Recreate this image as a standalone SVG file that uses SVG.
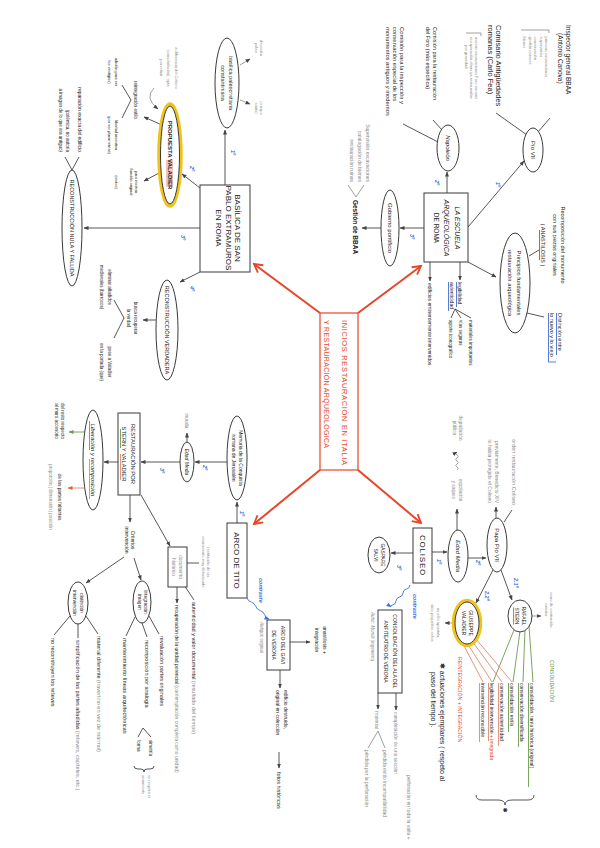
<svg xmlns="http://www.w3.org/2000/svg" width="600" height="848" viewBox="0 0 600 848">
<defs>
<style>
text{font-family:"Liberation Sans","DejaVu Sans",Arial,sans-serif;fill:#222}
.m{text-anchor:middle}
.e{text-anchor:end}
.gy{fill:#8a8a8a}
.bl{fill:#3d6fd9;font-style:italic;font-weight:bold;font-size:5.5px}
.rd{fill:#e5482b}
.gn{fill:#5f8f3e}
.nd{fill:#fff;stroke:#3a3a3a;stroke-width:1}
.ln{fill:none;stroke:#444;stroke-width:0.9}
.lg{fill:none;stroke:#888;stroke-width:0.8}
.arr{marker-end:url(#ar)}
.red{fill:none;stroke:#e8452a;stroke-width:2;marker-end:url(#arR)}
.grn{fill:none;stroke:#6e9a4f;stroke-width:0.9}
.org{fill:none;stroke:#e08a70;stroke-width:0.9}
.blu{fill:none;stroke:#3d6fd9;stroke-width:0.9;marker-end:url(#arB)}
.yel{fill:none;stroke:#f0c21c;stroke-width:3.5}
</style>
<marker id="ar" viewBox="0 0 10 10" refX="9" refY="5" markerWidth="5" markerHeight="5" markerUnits="userSpaceOnUse" orient="auto"><path d="M0,1 L10,5 L0,9 z" fill="#444"/></marker>
<marker id="arB" viewBox="0 0 10 10" refX="9" refY="5" markerWidth="5" markerHeight="5" markerUnits="userSpaceOnUse" orient="auto"><path d="M0,1 L10,5 L0,9 z" fill="#3d6fd9"/></marker>
<marker id="arG" viewBox="0 0 10 10" refX="9" refY="5" markerWidth="5" markerHeight="5" markerUnits="userSpaceOnUse" orient="auto"><path d="M0,1 L10,5 L0,9 z" fill="#6e9a4f"/></marker>
<marker id="arO" viewBox="0 0 10 10" refX="9" refY="5" markerWidth="5" markerHeight="5" markerUnits="userSpaceOnUse" orient="auto"><path d="M0,1 L10,5 L0,9 z" fill="#e5603f"/></marker>
<marker id="arR" viewBox="0 0 12 12" refX="10" refY="6" markerWidth="11" markerHeight="11" markerUnits="userSpaceOnUse" orient="auto"><path d="M1,1 L10,6 L1,11" fill="none" stroke="#e8452a" stroke-width="2"/></marker>
</defs>
<rect width="600" height="848" fill="#fff"/>
<g id="diagram" transform="translate(600 0) rotate(90)">

<g id="connectors">
<path class="red" d="M313,280 L264,346"/>
<path class="red" d="M313,242 L266,179"/>
<path class="red" d="M470,280 L524,346"/>
<path class="red" d="M470,242 L523,179"/>
<path class="ln arr" d="M185,375 L130,375"/>
<path class="ln arr" d="M188,400 L174,418"/>
<path class="ln arr" d="M228,400 L228,516"/>
<path class="ln arr" d="M272,400 L282,420"/>
<path class="lg arr" d="M65,360 L59,350"/>
<path class="lg arr" d="M100,360 L104,350"/>
<path class="ln arr" d="M125,438 L117,456"/>
<path class="ln arr" d="M172,439 L181,456"/>
<path class="lg arr" d="M88,446 Q98,456 109,442"/>
<path class="ln" d="M100,469 L85,478 M100,469 L118,478"/>
<path class="ln" d="M170,528 L157,521 M170,528 L157,535"/>
<path class="ln arr" d="M320,444 L320,457"/>
<path class="ln" d="M318,476 L300,486 M318,476 L338,486"/>
<path class="ln arr" d="M227,132 L161,76"/>
<path class="ln" d="M132,62 L118,50"/>
<path class="ln" d="M135,73 L113,104"/>
<path class="ln arr" d="M193,153 L172,153"/>
<path class="ln" d="M130,158 L120,167"/>
<path class="ln" d="M142,162 L124,197"/>
<path class="ln arr" d="M228,176 L228,200"/>
<path class="ln arr" d="M228,219 L228,238"/>
<path class="lg" d="M197,244 L185,236 M197,244 L185,252"/>
<path class="ln arr" d="M262,132 L277,104"/>
<path class="ln" d="M313,73 L317,56"/>
<path class="ln" d="M250,61 L256,71"/>
<path class="ln arr" d="M262,140 L280,140"/>
<path class="ln" d="M309,145 L318,129 M309,145 L318,139 M309,145 L318,149"/>
<path class="ln arr" d="M262,170 L281,170"/>
<path class="ln arr" d="M552,168 L552,153"/>
<path class="ln arr" d="M530,143 L509,143"/>
<path class="lg arr" d="M470,143 q-1.5,-2.5 -3,0 t-3,0 t-3,0 t-3,0 t-3,0 t-3,0"/>
<path class="ln arr" d="M558,132 L558,114"/>
<path class="ln arr" d="M518,104 L507,104"/>
<path class="ln" d="M522,96 L510,88"/>
<path class="ln arr" d="M570,99 L600,88"/>
<path class="ln arr" d="M570,107 L603,124"/>
<path class="lg arr" d="M616,68 L616,59"/>
<path class="lg arr" d="M623,145 L623,155"/>
<path class="grn" d="M626,71 L682,67 M629,75 L682,77 M631,80 L682,87 M630,86 L682,107"/>
<path class="org" d="M639,124 L682,88 M641,128 L682,98 M643,133 L682,108 M642,138 L682,117"/>
<path class="ln" d="M795,66 Q800,66 800,72 L800,88 Q800,95 805,95 Q800,95 800,102 L800,118 Q800,124 795,124"/>
<path class="ln arr" d="M553,187 L553,209"/>
<path class="blu" d="M585,190 q3.3,0.25 4,3.5 t4,3.5 t4,3.5 t4,3.5 t4,3.5 t2,1.5"/>
<path class="ln arr" d="M693,222 L709,222"/>
<path class="lg" d="M731,222 L748,215 M731,222 L748,232"/>
<path class="ln arr" d="M693,204 L710,204"/>
<path class="ln arr" d="M523,363 L502,363"/>
<path class="ln arr" d="M462,373 L462,405"/>
<path class="ln arr" d="M442,413 L433,413"/>
<path class="ln arr" d="M462,420 L462,459"/>
<path class="ln arr" d="M462,482 L462,496"/>
<path class="grn" style="marker-end:url(#arG)" d="M432,515 L432,531"/>
<path class="org" style="marker-end:url(#arO)" d="M488,516 L488,532"/>
<path class="ln arr" d="M495,470 L522,470"/>
<path class="ln arr" d="M557,476 L583,514"/>
<path class="ln arr" d="M558,466 L580,459"/>
<path class="ln" d="M616,451 L634,441 M623,458 L637,453 M617,465 L636,474"/>
<path class="ln" d="M728,457 L737,449 M728,457 L737,462"/>
<path class="ln" d="M766,446 Q769,446 769,450 L769,453 Q769,456 772,456 Q769,456 769,459 L769,462 Q769,466 766,466"/>
<path class="ln" d="M616,514 L634,502 M624,522 L638,522 M616,530 L635,546"/>
<path class="ln arr" d="M495,459 L546,430"/>
<path class="ln" d="M563,413 L563,401"/>
<path class="ln" d="M585,416 L600,406"/>
<path class="ln arr" d="M587,423 L603,423"/>
<path class="blu" d="M598,353 q3.2,-1.2 4.2,-4.4 t4.2,-4.4 t4.2,-4.4 t4.2,-4.4 t4.2,-4.4"/>
<path class="ln arr" d="M642,310 L642,290"/>
<path class="ln arr" d="M670,320 L688,320"/>
<path class="ln arr" d="M752,321 L768,321"/>
</g>

<g id="central">
<rect x="313" y="242" width="157" height="38" fill="#fff" stroke="#e8452a" stroke-width="1.2"/>
<text class="rd" x="320" y="258" font-size="7.5" textLength="145" lengthAdjust="spacing">INICIOS RESTAURACIÓN EN ITALIA</text>
<text class="rd" x="320" y="276" font-size="7" textLength="128" lengthAdjust="spacing">Y RESTAURACIÓN ARQUEOLÓGICA</text>
</g>

<g id="basilica">
<rect class="nd" x="185" y="350" width="87" height="50"/>
<text class="m" x="228" y="365" font-size="8">BASÍLICA DE SAN</text>
<text class="m" x="228" y="374" font-size="8">PABLO EXTRAMUROS</text>
<text class="m" x="228" y="384" font-size="8">EN ROMA</text>
<text class="bl" x="150" y="369">1º</text>
<text class="bl" x="166" y="410">2º</text>
<text class="bl" x="235" y="419">3º</text>
<text class="bl" x="286" y="410">4º</text>
</g>

<g id="paleocristiana">
<ellipse class="nd" cx="83" cy="373" rx="45" ry="12"/>
<text class="m" x="83" y="371" font-size="5.5">basílica paleocristiana</text>
<text class="m" x="83" y="379" font-size="5.5">constantiniana</text>
<text class="m gy" x="48" y="340" font-size="4">devoción</text>
<text class="m gy" x="48" y="345" font-size="4">pobre</text>
<text class="m gy" x="108" y="340" font-size="4">(cuerpo</text>
<text class="m gy" x="108" y="345" font-size="4">santo)</text>
</g>

<g id="propuesta-valadier">
<ellipse class="yel" cx="155" cy="430" rx="51" ry="11"/>
<ellipse class="nd" cx="155" cy="430" rx="49" ry="9.5"/>
<rect x="160" y="427" width="27" height="7" fill="#f4c6c0"/>
<text class="m" x="155" y="432.5" font-size="6" font-weight="bold">PROPUESTA VALADIER</text>
<text class="m gy" x="68" y="425" font-size="4">a diferencia del Coliseo</text>
<text class="m gy" x="68" y="433" font-size="4">(consolidación), opta</text>
<text class="m gy" x="68" y="440" font-size="4">por retirar</text>
<text class="m" x="100" y="466" font-size="4.5">reintegración estilo</text>
<text class="m" x="72" y="485" font-size="4">adición para ver</text>
<text class="m" x="72" y="492" font-size="4">los vestigios)</text>
<text class="m" x="135" y="485" font-size="4">libertad inventiva</text>
<text class="m" x="135" y="492" font-size="4">(por ser planimetrías)</text>
<text class="m" x="182" y="465" font-size="4">para mostrar</text>
<text class="m" x="182" y="470" font-size="4">función original</text>
<text class="m" x="182" y="485" font-size="4">(restos)</text>
</g>

<g id="reconstruccion-nula">
<ellipse class="nd" cx="228" cy="528" rx="58" ry="10"/>
<text class="m" x="228" y="530" font-size="5.5">RECONSTRUCCIÓN NULA Y FALLIDA</text>
<text class="e" x="152" y="522" font-size="5">reparación exacta del edificio</text>
<text class="e" x="152" y="534" font-size="4.5">(polémica, no autoría</text>
<text class="e" x="152" y="541" font-size="4.5">a imagen de lo que era antiguo)</text>
</g>

<g id="reconstruccion-verdadera">
<ellipse class="nd" cx="330" cy="433" rx="50" ry="11"/>
<text class="m" x="330" y="435" font-size="5.5">RECONSTRUCCIÓN VERDADERA</text>
<text class="m" x="318" y="466" font-size="4.5">busca recuperar</text>
<text class="m" x="318" y="473" font-size="4.5">la verdad</text>
<text class="m" x="287" y="492" font-size="4.5">eliminar añadidos</text>
<text class="m" x="287" y="500" font-size="4.5">medievales (barrocos)</text>
<text class="m" x="362" y="492" font-size="4.5">pese a Valadier</text>
<text class="m" x="362" y="500" font-size="4.5">en la portada (que)</text>
</g>

<g id="escuela">
<rect class="nd" x="193" y="132" width="69" height="44"/>
<text class="m" x="228" y="145" font-size="7" font-style="italic">LA ESCUELA</text>
<text class="m" x="228" y="156" font-size="7" font-style="italic">ARQUEOLÓGICA</text>
<text class="m" x="228" y="166" font-size="6.5">DE ROMA</text>
<text class="bl" x="182" y="104">1º</text>
<text class="bl" x="180" y="165">2º</text>
<text class="bl" x="234" y="190">3º</text>
</g>

<g id="pio-vii">
<ellipse class="nd" cx="150" cy="67" rx="22" ry="10"/>
<text class="m" x="150" y="69" font-size="6">Pío VII</text>
<text x="25" y="34" font-size="6.5">Inspector general BBAA</text>
<text x="33" y="42" font-size="6.5">(Antonio Canova)</text>
<path class="lg" d="M33,51 L30,51 L30,79"/>
<text class="gy" x="34" y="55" font-size="4">- primeras excavaciones</text>
<text class="gy" x="34" y="60.5" font-size="4">- supervisión</text>
<text class="gy" x="34" y="66" font-size="4">- conservación</text>
<text class="gy" x="34" y="71.5" font-size="4">- gestión museos</text>
<text class="gy" x="34" y="77" font-size="4">- bienes</text>
<text x="25" y="104.5" font-size="7.5">Comisario Antigüedades</text>
<text x="25" y="112.5" font-size="7.5">romanas  (Carlo Fea)</text>
<path class="lg" d="M36,119 L33,119 L33,134"/>
<text class="gy" x="37" y="125" font-size="4">nuevas excavaciones Foro romano</text>
<text class="gy" x="37" y="130" font-size="4">recuperación obras ya restauradas</text>
<text class="gy" x="45" y="135" font-size="4">por gravedad</text>
</g>

<g id="napoleon">
<ellipse class="nd" cx="148" cy="152" rx="23" ry="11"/>
<text class="m" x="148" y="154" font-size="6" font-style="italic">Napoleón</text>
<text x="27" y="167" font-size="5.5">Comisión para la restauración</text>
<text x="27" y="174" font-size="5.5">del Foro (más específica)</text>
<text x="27" y="200" font-size="5.8">Comisión para la inspección y</text>
<text x="27" y="207" font-size="5.8">conservación especial de los</text>
<text x="27" y="214" font-size="5.8">monumentos antiguos y modernos</text>
</g>

<g id="gobierno-pontificio">
<ellipse class="nd" cx="228" cy="210" rx="38" ry="9"/>
<text class="m" x="228" y="212" font-size="6">Gobierno pontificio</text>
<text class="m" x="227" y="247" font-size="6.5" font-weight="bold">Gestión de BBAA</text>
<text class="e gy" x="182" y="234" font-size="5">Supervisión excavaciones</text>
<text class="e gy" x="182" y="242" font-size="5">catalogación de bienes</text>
<text class="e gy" x="182" y="250" font-size="5">restauración ruinas</text>
</g>

<g id="principios">
<ellipse class="nd" cx="283" cy="85" rx="50" ry="15"/>
<text class="m" x="283" y="83" font-size="5.8">Principios fundamentales</text>
<text class="m" x="283" y="92" font-size="5.8">restauración arqueológica</text>
<text class="m" x="245" y="39" font-size="5.5">Recomposición del monumento</text>
<text class="m" x="245" y="47" font-size="5.5">con sus piezas originales</text>
<text class="m" x="245" y="59" font-size="5.5">( ANASTILOSIS )</text>
<path class="blu" style="marker-end:none" d="M230,60.5 L260,60.5"/>
<text x="313" y="42" font-size="5.5">Distinción entre</text>
<text x="313" y="50" font-size="5.5">lo nuevo y lo viejo</text>
<path class="blu" style="marker-end:none" d="M313,43.5 L355,43.5 M313,51.5 L362,51.5 L362,44"/>
<text x="282" y="142" font-size="5">legibilidad</text>
<text x="282" y="150" font-size="5">autenticidad</text>
<path class="blu" style="marker-end:none" d="M282,143.5 L307,143.5 M282,151.5 L311,151.5"/>
<text x="320" y="131" font-size="4.5">materiales importantes</text>
<text x="320" y="141" font-size="4.5">vías seguras</text>
<text x="320" y="151" font-size="4.5">aporte iconográfico</text>
<text x="283" y="172" font-size="5">edificios eminentemente intervenidos</text>
</g>

<g id="coliseo">
<rect class="nd" x="528" y="168" width="55" height="19"/>
<text class="m" x="555.5" y="180.5" font-size="8" letter-spacing="0.8">COLISEO</text>
<text class="bl" x="559" y="163">1º</text>
<text class="bl" x="560" y="124">2º</text>
<text class="bl" x="565" y="203">3º</text>
</g>

<g id="edad-media-coliseo">
<ellipse class="nd" cx="556" cy="142" rx="26" ry="10"/>
<text class="m" x="556" y="144" font-size="6" font-style="italic">Edad Media</text>
<text class="m gy" x="428" y="141" font-size="4.5">degradación</text>
<text class="m gy" x="428" y="147" font-size="4.5">pública</text>
<text class="m gy" x="490" y="141" font-size="4.5">expoliación</text>
<text class="m gy" x="490" y="148" font-size="4.5">y saqueo</text>
</g>

<g id="papa-pio-vii">
<ellipse class="nd" cx="545" cy="103" rx="27" ry="10"/>
<text class="m" x="545" y="105" font-size="6">Papa Pío VII</text>
<text class="e gy" x="503" y="105" font-size="5">previamente, Benedicto XIV</text>
<text class="e gy" x="503" y="112" font-size="5">lo había protegido el Coliseo</text>
<text class="e gy" x="505" y="88" font-size="5.5">orden restauración Coliseo</text>
<text class="bl" x="578" y="86">2.1º</text>
<text class="bl" x="591" y="115">2.2º</text>
</g>

<g id="rafael-stern">
<ellipse class="nd" cx="616" cy="80" rx="16" ry="12"/>
<text class="m" x="616" y="78" font-size="5">RAFAEL</text>
<text class="m" x="616" y="85" font-size="5" text-decoration="underline">STERN</text>
<text class="m gy" x="610" y="50" font-size="4">muro de contención</text>
<text class="m gy" x="610" y="55" font-size="4">exterior</text>
<text class="gn" x="660" y="50" font-size="5">CONSOLIDACIÓN</text>
</g>

<g id="giuseppe-valadier">
<ellipse class="yel" cx="623" cy="133" rx="22.5" ry="13.5"/>
<ellipse class="nd" cx="623" cy="133" rx="21" ry="12"/>
<text class="m" x="623" y="131" font-size="5">GIUSEPPE</text>
<text class="m" x="623" y="138" font-size="5">VALADIER</text>
<text class="m gy" x="623" y="163" font-size="4">no sólo apuntala,</text>
<text class="m gy" x="623" y="169" font-size="4">sino pequeños sellos</text>
<text class="rd" x="657" y="142" font-size="5.2">REINTEGRACIÓN + INTEGRACIÓN</text>
</g>

<g id="actuaciones">
<text x="683" y="70" font-size="5">consolidación, tanto histórica (original)</text>
<text x="683" y="80" font-size="5">conservación diversificada</text>
<text x="683" y="90" font-size="5">consolidación estilo</text>
<text x="683" y="100" font-size="5">conservación autenticidad</text>
<text x="683" y="110" font-size="5">legibilidad intervención <tspan class="rd">+ integrada</tspan></text>
<text x="683" y="119" font-size="5">intervención reconocible</text>
<path class="grn" d="M683,71.5 L787,71.5 M683,81.5 L747,81.5 M683,91.5 L732,91.5"/>
<path class="org" d="M683,101.5 L746,101.5 M683,111.5 L741,111.5 M683,120.5 L742,120.5"/>
<text x="663" y="160" font-size="7"><tspan font-family="DejaVu Sans">✱</tspan> actuaciones ejemplares ( respeto al</text>
<text x="672" y="169" font-size="7">paso del tiempo ).</text>
<text class="m" x="810" y="97" font-size="6" font-family="DejaVu Sans">✱</text>
</g>

<g id="gaspare-salvi">
<ellipse class="nd" cx="555" cy="221" rx="18" ry="11"/>
<text class="m" x="555" y="219.5" font-size="4.8">GASPARE</text>
<text class="m" x="555" y="226" font-size="4.8">SALVI</text>
</g>

<g id="verona-anfiteatro">
<text class="bl" x="594" y="187" font-size="4.5" font-weight="normal">contraste</text>
<rect class="nd" x="610" y="198" width="83" height="24"/>
<text class="m" x="651.5" y="207.5" font-size="5">CONSOLIDACIÓN DEL ALA DEL</text>
<text class="m" x="651.5" y="216.5" font-size="5">ANFITEATRO DE VERONA</text>
<text class="gy" x="612" y="229" font-size="4.5" font-style="italic">Autor: Morelli (ingeniero)</text>
<text class="gy" x="711" y="225" font-size="5">material</text>
<text class="gy" x="750" y="217" font-size="5">pérdida estilo incompatibilidad</text>
<text class="gy" x="750" y="235" font-size="5">pérdida por la perforación</text>
<text class="gy" x="712" y="206" font-size="4.8">completación de una sección</text>
<text class="gy" x="775" y="193" font-size="5">perforación en toda la valla +</text>
</g>

<g id="arco-tito">
<rect class="nd" x="523" y="353" width="75" height="20"/>
<text class="m" x="560.5" y="366" font-size="8">ARCO DE TITO</text>
<text class="bl" x="511" y="360">1º</text>
<text class="bl" x="465" y="397">2º</text>
<text class="bl" x="468" y="440">3º</text>
<text class="bl" x="578" y="341" font-size="4.5" font-weight="normal">contraste</text>
</g>

<g id="memoria">
<ellipse class="nd" cx="458" cy="363" rx="42" ry="10"/>
<text class="m" x="458" y="361" font-size="5">Memoria de la Conquista</text>
<text class="m" x="458" y="368" font-size="5">romana de Jerusalén</text>
</g>

<g id="edad-media-arco">
<ellipse class="nd" cx="462" cy="413" rx="20" ry="7"/>
<text class="m" x="462" y="415" font-size="5" font-style="italic">Edad Media</text>
<text class="m gy" x="421" y="415" font-size="4.5">muralla</text>
</g>

<g id="restauracion-stern-valadier">
<rect class="nd" x="413" y="460" width="82" height="22"/>
<text class="m" x="454" y="469" font-size="5.8">RESTAURACIÓN POR</text>
<text class="m" x="454" y="478" font-size="5.8">STERN Y VALADIER</text>
<path class="grn" d="M429,479.5 L448,479.5"/>
<path class="org" d="M454,479.5 L480,479.5"/>
</g>

<g id="liberacion">
<ellipse class="nd" cx="460" cy="507" rx="50" ry="10"/>
<text class="m" x="460" y="509" font-size="6" font-style="italic">Liberación y recomposición</text>
<path class="grn" d="M421,510.5 L450,510.5"/>
<path class="org" d="M459,510.5 L499,510.5"/>
<text class="m" x="421" y="539" font-size="4.5">del resto respecto</text>
<text class="m" x="421" y="545" font-size="4.5">al muro accesorio</text>
<text class="m" x="497" y="542" font-size="4.8">de las partes faltantes</text>
<text class="m gy" x="497" y="551" font-size="4.5">proporción | dimensión | posición</text>
</g>

<g id="criterios">
<text class="m" x="540" y="469" font-size="5">Criterios</text>
<text class="m" x="540" y="475" font-size="5">intervención</text>
</g>

<g id="integracion-imagen">
<ellipse class="nd" cx="602" cy="458" rx="21" ry="9"/>
<text class="m" x="602" y="456" font-size="4.8">Integración</text>
<text class="m" x="602" y="462" font-size="4.8">imagen</text>
<text x="636" y="440" font-size="5.5">revaluación partes originales</text>
<text x="640" y="455" font-size="5.5">recomposición por analogía</text>
<text x="740" y="451" font-size="4.5">simetría</text>
<text x="740" y="463" font-size="4.5">forma</text>
<text class="gy" x="775" y="452" font-size="4">se respeta el</text>
<text class="gy" x="775" y="458" font-size="4">ornamento</text>
<text x="638" y="477" font-size="5.8">mantenimiento líneas arquitectónicas</text>
</g>

<g id="distincion-intervencion">
<ellipse class="nd" cx="603" cy="522" rx="21" ry="10"/>
<text class="m" x="603" y="520" font-size="4.8">distinción</text>
<text class="m" x="603" y="527" font-size="4.8">intervención</text>
<text x="636" y="503" font-size="5.5">material diferente <tspan class="gy">(travertino en vez de mármol)</tspan></text>
<text x="640" y="524" font-size="5.5">simplificación de las partes añadidas <tspan class="gy">(relieves, capiteles, etc.)</tspan></text>
<text x="638" y="549" font-size="5.5">no reconstruyen los relieves</text>
</g>

<g id="documento-historico">
<rect class="nd" x="547" y="413" width="40" height="19" stroke="#888"/>
<text class="m gy" x="567" y="421" font-size="4.8">documento</text>
<text class="m gy" x="567" y="428" font-size="4.8">histórico</text>
<text class="m gy" x="562" y="393" font-size="4">restitución de un</text>
<text class="m gy" x="562" y="398.5" font-size="4">monumento muy deteriorado</text>
<text x="602" y="408" font-size="5.5">autenticidad y valor documental <tspan class="gy">(resultado del tiempo)</tspan></text>
<text x="605" y="425" font-size="5">recuperación de la unidad potencial <tspan class="gy">(contemplación completa como unidad)</tspan></text>
</g>

<g id="arco-gavi">
<rect class="nd" x="620" y="310" width="50" height="23"/>
<text class="m" x="645" y="319" font-size="5">ARCO DEL GAVI</text>
<text class="m" x="645" y="328" font-size="5">DE VERONA</text>
<text class="gy" x="622" y="340" font-size="4.5" font-style="italic">Antiguo original</text>
<text class="m" x="640" y="277" font-size="5">anastilosis +</text>
<text class="m" x="640" y="285" font-size="5">integración</text>
<text x="690" y="316" font-size="5">edificio destruido,</text>
<text x="690" y="324" font-size="5">original en colección</text>
<text x="772" y="323" font-size="5.5">fotos históricas</text>
</g>

</g>
</svg>
